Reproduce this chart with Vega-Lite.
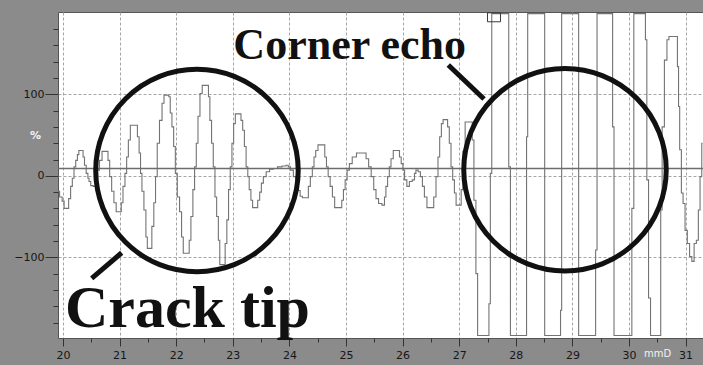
{
  "$schema": "https://vega.github.io/schema/vega-lite/v6.json",
  "width": 645,
  "height": 326,
  "autosize": "none",
  "padding": {"left": 58, "top": 12, "right": 0, "bottom": 27},
  "background": "#8b8b8b",
  "config": {
    "view": {"fill": "#ffffff", "stroke": "#555555", "strokeWidth": 1},
    "axis": {"labelFont": "DejaVu Sans", "labelFontSize": 11, "labelColor": "#161616", "tickColor": "#333333", "domain": false, "gridColor": "#a6a6a6", "gridDash": [3, 2], "titleFont": "DejaVu Sans"}
  },
  "resolve": {"axis": {"x": "independent", "y": "independent"}},
  "layer": [
    {
      "data": {"values": [
        {"mm":19.91,"amp":-19},{"mm":19.97,"amp":-26},{"mm":20.00,"amp":-31},{"mm":20.04,"amp":-40},{"mm":20.08,"amp":-40},{"mm":20.12,"amp":-28},{"mm":20.15,"amp":-13},{"mm":20.18,"amp":-3},{"mm":20.21,"amp":11},{"mm":20.24,"amp":19},{"mm":20.27,"amp":26},{"mm":20.29,"amp":31},{"mm":20.34,"amp":31},{"mm":20.37,"amp":23},{"mm":20.39,"amp":13},{"mm":20.43,"amp":3},{"mm":20.45,"amp":-3},{"mm":20.47,"amp":-7},{"mm":20.51,"amp":-12},{"mm":20.56,"amp":-13},{"mm":20.60,"amp":-6},{"mm":20.62,"amp":7},{"mm":20.67,"amp":19},{"mm":20.71,"amp":30},{"mm":20.78,"amp":30},{"mm":20.81,"amp":19},{"mm":20.84,"amp":-1},{"mm":20.88,"amp":-19},{"mm":20.92,"amp":-33},{"mm":20.96,"amp":-44},{"mm":21.02,"amp":-44},{"mm":21.04,"amp":-33},{"mm":21.08,"amp":-13},{"mm":21.11,"amp":3},{"mm":21.14,"amp":23},{"mm":21.17,"amp":44},{"mm":21.21,"amp":62},{"mm":21.30,"amp":62},{"mm":21.33,"amp":48},{"mm":21.36,"amp":28},{"mm":21.38,"amp":3},{"mm":21.41,"amp":-19},{"mm":21.45,"amp":-42},{"mm":21.48,"amp":-75},{"mm":21.50,"amp":-89},{"mm":21.55,"amp":-89},{"mm":21.59,"amp":-62},{"mm":21.62,"amp":-33},{"mm":21.65,"amp":-1},{"mm":21.68,"amp":40},{"mm":21.73,"amp":68},{"mm":21.77,"amp":89},{"mm":21.80,"amp":99},{"mm":21.86,"amp":99},{"mm":21.88,"amp":97},{"mm":21.91,"amp":77},{"mm":21.94,"amp":60},{"mm":21.97,"amp":36},{"mm":22.00,"amp":3},{"mm":22.04,"amp":-26},{"mm":22.08,"amp":-44},{"mm":22.11,"amp":-75},{"mm":22.14,"amp":-95},{"mm":22.22,"amp":-95},{"mm":22.24,"amp":-79},{"mm":22.28,"amp":-50},{"mm":22.31,"amp":-17},{"mm":22.34,"amp":11},{"mm":22.37,"amp":40},{"mm":22.40,"amp":73},{"mm":22.44,"amp":101},{"mm":22.48,"amp":111},{"mm":22.56,"amp":111},{"mm":22.58,"amp":97},{"mm":22.61,"amp":68},{"mm":22.64,"amp":40},{"mm":22.67,"amp":11},{"mm":22.70,"amp":-26},{"mm":22.73,"amp":-50},{"mm":22.76,"amp":-79},{"mm":22.78,"amp":-109},{"mm":22.85,"amp":-109},{"mm":22.88,"amp":-83},{"mm":22.91,"amp":-54},{"mm":22.94,"amp":-17},{"mm":22.97,"amp":11},{"mm":23.00,"amp":40},{"mm":23.03,"amp":64},{"mm":23.06,"amp":76},{"mm":23.13,"amp":76},{"mm":23.16,"amp":68},{"mm":23.19,"amp":56},{"mm":23.22,"amp":36},{"mm":23.25,"amp":11},{"mm":23.28,"amp":-1},{"mm":23.30,"amp":-17},{"mm":23.34,"amp":-30},{"mm":23.36,"amp":-39},{"mm":23.42,"amp":-39},{"mm":23.46,"amp":-30},{"mm":23.49,"amp":-20},{"mm":23.52,"amp":-9},{"mm":23.56,"amp":-1},{"mm":23.62,"amp":5},{"mm":23.68,"amp":8},{"mm":23.75,"amp":9},{"mm":23.83,"amp":11},{"mm":23.91,"amp":12},{"mm":23.97,"amp":13},{"mm":23.99,"amp":11},{"mm":24.05,"amp":7},{"mm":24.09,"amp":-1},{"mm":24.13,"amp":-9},{"mm":24.17,"amp":-18},{"mm":24.21,"amp":-25},{"mm":24.25,"amp":-27},{"mm":24.32,"amp":-27},{"mm":24.35,"amp":-13},{"mm":24.39,"amp":-1},{"mm":24.42,"amp":11},{"mm":24.45,"amp":23},{"mm":24.48,"amp":31},{"mm":24.53,"amp":38},{"mm":24.61,"amp":38},{"mm":24.64,"amp":23},{"mm":24.67,"amp":11},{"mm":24.70,"amp":-1},{"mm":24.74,"amp":-13},{"mm":24.78,"amp":-26},{"mm":24.82,"amp":-39},{"mm":24.91,"amp":-39},{"mm":24.94,"amp":-30},{"mm":24.97,"amp":-17},{"mm":25.00,"amp":-5},{"mm":25.04,"amp":7},{"mm":25.08,"amp":15},{"mm":25.14,"amp":23},{"mm":25.23,"amp":28},{"mm":25.33,"amp":28},{"mm":25.38,"amp":21},{"mm":25.42,"amp":11},{"mm":25.47,"amp":-1},{"mm":25.51,"amp":-17},{"mm":25.55,"amp":-28},{"mm":25.60,"amp":-34},{"mm":25.67,"amp":-36},{"mm":25.69,"amp":-26},{"mm":25.72,"amp":-13},{"mm":25.75,"amp":-1},{"mm":25.78,"amp":11},{"mm":25.81,"amp":21},{"mm":25.86,"amp":31},{"mm":25.93,"amp":31},{"mm":25.96,"amp":23},{"mm":25.99,"amp":15},{"mm":26.02,"amp":7},{"mm":26.05,"amp":-5},{"mm":26.10,"amp":-13},{"mm":26.14,"amp":-7},{"mm":26.20,"amp":-5},{"mm":26.22,"amp":3},{"mm":26.25,"amp":7},{"mm":26.30,"amp":5},{"mm":26.33,"amp":-1},{"mm":26.37,"amp":-13},{"mm":26.40,"amp":-26},{"mm":26.46,"amp":-39},{"mm":26.53,"amp":-39},{"mm":26.57,"amp":-26},{"mm":26.61,"amp":-1},{"mm":26.64,"amp":23},{"mm":26.67,"amp":48},{"mm":26.70,"amp":64},{"mm":26.73,"amp":69},{"mm":26.78,"amp":69},{"mm":26.81,"amp":60},{"mm":26.84,"amp":40},{"mm":26.87,"amp":11},{"mm":26.90,"amp":-5},{"mm":26.93,"amp":-21},{"mm":26.96,"amp":-36},{"mm":27.02,"amp":-36},{"mm":27.05,"amp":-17},{"mm":27.08,"amp":30},{"mm":27.13,"amp":66},{"mm":27.22,"amp":66},{"mm":27.24,"amp":44},{"mm":27.28,"amp":-30},{"mm":27.31,"amp":-120},{"mm":27.34,"amp":-196},{"mm":27.51,"amp":-196},{"mm":27.54,"amp":-157},{"mm":27.56,"amp":3},{"mm":27.59,"amp":199},{"mm":27.86,"amp":199},{"mm":27.89,"amp":11},{"mm":27.92,"amp":-196},{"mm":28.18,"amp":-196},{"mm":28.20,"amp":48},{"mm":28.22,"amp":199},{"mm":28.50,"amp":199},{"mm":28.52,"amp":-196},{"mm":28.78,"amp":-196},{"mm":28.80,"amp":-165},{"mm":28.82,"amp":199},{"mm":29.10,"amp":199},{"mm":29.12,"amp":-196},{"mm":29.40,"amp":-196},{"mm":29.42,"amp":-91},{"mm":29.45,"amp":199},{"mm":29.70,"amp":199},{"mm":29.72,"amp":60},{"mm":29.75,"amp":-196},{"mm":30.03,"amp":-196},{"mm":30.07,"amp":-40},{"mm":30.10,"amp":199},{"mm":30.28,"amp":199},{"mm":30.30,"amp":167},{"mm":30.33,"amp":-5},{"mm":30.36,"amp":-150},{"mm":30.40,"amp":-196},{"mm":30.55,"amp":-196},{"mm":30.57,"amp":-42},{"mm":30.60,"amp":60},{"mm":30.65,"amp":142},{"mm":30.69,"amp":167},{"mm":30.72,"amp":171},{"mm":30.84,"amp":171},{"mm":30.87,"amp":134},{"mm":30.88,"amp":85},{"mm":30.91,"amp":32},{"mm":30.94,"amp":-21},{"mm":30.97,"amp":-34},{"mm":31.01,"amp":-67},{"mm":31.05,"amp":-83},{"mm":31.09,"amp":-99},{"mm":31.13,"amp":-105},{"mm":31.17,"amp":-83},{"mm":31.21,"amp":-79},{"mm":31.24,"amp":-42},{"mm":31.27,"amp":-1},{"mm":31.30,"amp":40}
      ]},
      "mark": {"type": "line", "interpolate": "step", "color": "#737373", "strokeWidth": 1.1, "clip": true},
      "encoding": {
        "x": {"field": "mm", "type": "quantitative", "scale": {"domain": [19.912, 31.307], "nice": false, "zero": false},
          "axis": {"orient": "bottom", "values": [20,21,22,23,24,25,26,27,28,29,30,31], "grid": true, "tickSize": 8, "labelPadding": 3, "title": "mmD", "titleX": 599, "titleY": 15, "titleAlign": "center", "titleBaseline": "middle", "titleFontSize": 10, "titleFontWeight": "normal", "titleColor": "#f2f2f2"}},
        "y": {"field": "amp", "type": "quantitative", "scale": {"domain": [-199, 201], "nice": false, "zero": false},
          "axis": {"orient": "left", "values": [-100, 0, 100], "grid": true, "tickSize": 13, "labelPadding": 1, "title": "%", "titleAngle": 0, "titleX": -23, "titleY": 123, "titleAlign": "center", "titleBaseline": "middle", "titleFontSize": 11, "titleFontWeight": "bold", "titleColor": "#f4f4f4"}}
      }
    },
    {
      "data": {"values": [{"amp": 9}]},
      "mark": {"type": "rule", "color": "#6c6c6c", "strokeWidth": 1.5},
      "encoding": {
        "y": {"field": "amp", "type": "quantitative", "scale": {"domain": [-199, 201], "nice": false, "zero": false},
          "axis": {"orient": "left", "values": [-180,-160,-140,-120,-80,-60,-40,-20,20,40,60,80,120,140,160,180], "labels": false, "grid": false, "tickSize": 5, "title": null}}
      }
    },
    {
      "data": {"values": [{"mm": 27.50, "mm2": 27.73, "amp": 189, "amp2": 200}]},
      "mark": {"type": "rect", "fillOpacity": 0, "stroke": "#3a3a3a", "strokeWidth": 1},
      "encoding": {
        "x": {"field": "mm", "type": "quantitative", "scale": {"domain": [19.912, 31.307], "nice": false, "zero": false}, "axis": null},
        "x2": {"field": "mm2"},
        "y": {"field": "amp", "type": "quantitative", "scale": {"domain": [-199, 201], "nice": false, "zero": false}, "axis": null},
        "y2": {"field": "amp2"}
      }
    },
    {
      "data": {"values": [{"mm": 22.367, "amp": 6.5}, {"mm": 28.869, "amp": 7.5}]},
      "mark": {"type": "point", "shape": "circle", "filled": false, "size": 41000, "strokeWidth": 5, "color": "#111111", "opacity": 1},
      "encoding": {
        "x": {"field": "mm", "type": "quantitative", "scale": {"domain": [19.912, 31.307], "nice": false, "zero": false}, "axis": null},
        "y": {"field": "amp", "type": "quantitative", "scale": {"domain": [-199, 201], "nice": false, "zero": false}, "axis": null}
      }
    },
    {
      "data": {"values": [{"mm": 20.507, "amp": -125.8, "mm2": 21.037, "amp2": -94.4}, {"mm": 26.807, "amp": 136, "mm2": 27.438, "amp2": 94.2}]},
      "mark": {"type": "rule", "color": "#111111", "strokeWidth": 5},
      "encoding": {
        "x": {"field": "mm", "type": "quantitative", "scale": {"domain": [19.912, 31.307], "nice": false, "zero": false},
          "axis": {"orient": "bottom", "values": [20.5,21.5,22.5,23.5,24.5,25.5,26.5,27.5,28.5,29.5,30.5], "labels": false, "grid": false, "tickSize": 4, "title": null}},
        "x2": {"field": "mm2"},
        "y": {"field": "amp", "type": "quantitative", "scale": {"domain": [-199, 201], "nice": false, "zero": false}, "axis": null},
        "y2": {"field": "amp2"}
      }
    },
    {
      "data": {"values": [{"mm": 20.035, "amp": -186, "label": "Crack tip"}]},
      "mark": {"type": "text", "font": "Liberation Serif", "fontWeight": "bold", "fontSize": 60, "align": "left", "baseline": "alphabetic", "color": "#111111"},
      "encoding": {
        "x": {"field": "mm", "type": "quantitative", "scale": {"domain": [19.912, 31.307], "nice": false, "zero": false}, "axis": null},
        "y": {"field": "amp", "type": "quantitative", "scale": {"domain": [-199, 201], "nice": false, "zero": false}, "axis": null},
        "text": {"field": "label"}
      }
    },
    {
      "data": {"values": [{"mm": 23.01, "amp": 143, "label": "Corner echo"}]},
      "mark": {"type": "text", "font": "Liberation Serif", "fontWeight": "bold", "fontSize": 44, "align": "left", "baseline": "alphabetic", "color": "#111111"},
      "encoding": {
        "x": {"field": "mm", "type": "quantitative", "scale": {"domain": [19.912, 31.307], "nice": false, "zero": false}, "axis": null},
        "y": {"field": "amp", "type": "quantitative", "scale": {"domain": [-199, 201], "nice": false, "zero": false}, "axis": null},
        "text": {"field": "label"}
      }
    }
  ]
}
